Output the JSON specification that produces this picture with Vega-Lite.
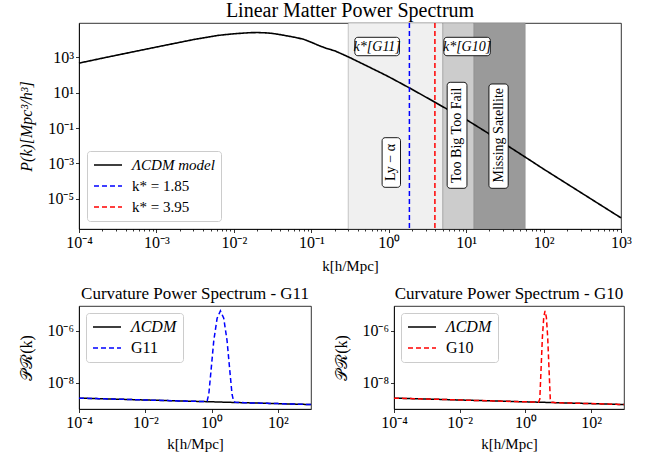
{
  "$schema": "https://vega.github.io/schema/vega-lite/v6.json",
  "padding": {"left": 17, "top": 0, "right": 0, "bottom": 0},
  "background": "white",
  "config": {
    "font": "Liberation Serif",
    "view": {"stroke": "black", "strokeWidth": 0.8},
    "axis": {"labelFont": "Liberation Serif", "titleFont": "Liberation Serif", "labelFontSize": 16, "titleFontSize": 15, "titleFontWeight": "normal", "labelColor": "black", "titleColor": "black", "domainColor": "black", "tickColor": "black", "grid": false, "tickSize": 3.5, "labelPadding": 2, "domainWidth": 0.8, "tickWidth": 0.8, "labelOverlap": false, "labelFlush": false},
    "axisY": {"minExtent": 40, "maxExtent": 40, "titlePadding": 5},
    "axisX": {"titlePadding": 6},
    "title": {"font": "Liberation Serif", "fontWeight": "normal", "color": "black"},
    "legend": {"labelFont": "Liberation Serif", "labelFontSize": 15, "labelColor": "black", "symbolType": "stroke", "symbolSize": 784, "symbolStrokeWidth": 1.5, "fillColor": "white", "strokeColor": "#cccccc", "cornerRadius": 3, "padding": 6, "clipHeight": 16, "rowPadding": 5, "labelOffset": 9, "title": null}
  },
  "datasets": {
    "pk": [
      {"k": 0.0001, "P": 468, "series": "ΛCDM model"},
      {"k": 0.0002, "P": 891, "series": "ΛCDM model"},
      {"k": 0.000316, "P": 1349, "series": "ΛCDM model"},
      {"k": 0.001, "P": 3802, "series": "ΛCDM model"},
      {"k": 0.00316, "P": 10470, "series": "ΛCDM model"},
      {"k": 0.00631, "P": 17380, "series": "ΛCDM model"},
      {"k": 0.01, "P": 21380, "series": "ΛCDM model"},
      {"k": 0.0158, "P": 24550, "series": "ΛCDM model"},
      {"k": 0.02, "P": 25120, "series": "ΛCDM model"},
      {"k": 0.0251, "P": 24270, "series": "ΛCDM model"},
      {"k": 0.0316, "P": 22390, "series": "ΛCDM model"},
      {"k": 0.0398, "P": 19050, "series": "ΛCDM model"},
      {"k": 0.0501, "P": 15850, "series": "ΛCDM model"},
      {"k": 0.0631, "P": 13180, "series": "ΛCDM model"},
      {"k": 0.0794, "P": 10470, "series": "ΛCDM model"},
      {"k": 0.1, "P": 7079, "series": "ΛCDM model"},
      {"k": 0.126, "P": 4571, "series": "ΛCDM model"},
      {"k": 0.158, "P": 3162, "series": "ΛCDM model"},
      {"k": 0.2, "P": 2344, "series": "ΛCDM model"},
      {"k": 0.251, "P": 1514, "series": "ΛCDM model"},
      {"k": 0.316, "P": 955, "series": "ΛCDM model"},
      {"k": 0.501, "P": 355, "series": "ΛCDM model"},
      {"k": 0.794, "P": 132, "series": "ΛCDM model"},
      {"k": 1, "P": 79.4, "series": "ΛCDM model"},
      {"k": 1.85, "P": 18.6, "series": "ΛCDM model"},
      {"k": 3.16, "P": 5.01, "series": "ΛCDM model"},
      {"k": 5.62, "P": 1.2, "series": "ΛCDM model"},
      {"k": 10, "P": 0.302, "series": "ΛCDM model"},
      {"k": 17.8, "P": 0.0631, "series": "ΛCDM model"},
      {"k": 31.6, "P": 0.0126, "series": "ΛCDM model"},
      {"k": 71.3, "P": 0.00126, "series": "ΛCDM model"},
      {"k": 100, "P": 0.000479, "series": "ΛCDM model"},
      {"k": 316, "P": 0.00002, "series": "ΛCDM model"},
      {"k": 1000, "P": 0.00000083, "series": "ΛCDM model"}
    ],
    "kstar": [
      {"k": 1.85, "series": "k* = 1.85"},
      {"k": 3.95, "series": "k* = 3.95"}
    ],
    "bands": [
      {"band": "Ly", "kmin": 0.3, "kmax": 5},
      {"band": "TBTF", "kmin": 5, "kmax": 12.6},
      {"band": "MS", "kmin": 12.6, "kmax": 58}
    ],
    "boxes": [
      {"k1": 0.365, "k2": 1.377, "p1": 1230, "p2": 13520},
      {"k1": 5.16, "k2": 20.5, "p1": 1230, "p2": 13520},
      {"k1": 0.822, "k2": 1.42, "p1": 0.0000444, "p2": 0.0284},
      {"k1": 5.69, "k2": 10.24, "p1": 0.000039, "p2": 38.5},
      {"k1": 19.7, "k2": 34.9, "p1": 0.000039, "p2": 30.9}
    ],
    "hlabels": [
      {"label": "k*[G11]", "k": 0.71, "p": 4070},
      {"label": "k*[G10]", "k": 10.27, "p": 4070}
    ],
    "vlabels": [
      {"label": "Ly − α", "k": 1.08, "p": 0.00112, "style": "it"},
      {"label": "Too Big Too Fail", "k": 7.63, "p": 0.039, "style": "rm"},
      {"label": "Missing Satellite", "k": 26.2, "p": 0.039, "style": "rm"}
    ],
    "pr11": [
      {"k": 0.0001, "P": 2.61e-9, "series": "ΛCDM"},
      {"k": 0.001, "P": 2.42e-9, "series": "ΛCDM"},
      {"k": 0.01, "P": 2.22e-9, "series": "ΛCDM"},
      {"k": 0.1, "P": 2.05e-9, "series": "ΛCDM"},
      {"k": 1, "P": 1.89e-9, "series": "ΛCDM"},
      {"k": 10, "P": 1.74e-9, "series": "ΛCDM"},
      {"k": 100, "P": 1.61e-9, "series": "ΛCDM"},
      {"k": 1000, "P": 1.48e-9, "series": "ΛCDM"},
      {"k": 0.0001, "P": 2.61e-9, "series": "G11"},
      {"k": 0.001, "P": 2.42e-9, "series": "G11"},
      {"k": 0.01, "P": 2.22e-9, "series": "G11"},
      {"k": 0.1, "P": 2.05e-9, "series": "G11"},
      {"k": 0.656, "P": 1.92e-9, "series": "G11"},
      {"k": 0.736, "P": 2.05e-9, "series": "G11"},
      {"k": 0.826, "P": 3.8e-9, "series": "G11"},
      {"k": 0.927, "P": 1.78e-8, "series": "G11"},
      {"k": 1.167, "P": 4.29e-7, "series": "G11"},
      {"k": 1.469, "P": 3.06e-6, "series": "G11"},
      {"k": 1.85, "P": 5.9e-6, "series": "G11"},
      {"k": 2.33, "P": 3.06e-6, "series": "G11"},
      {"k": 2.93, "P": 4.27e-7, "series": "G11"},
      {"k": 3.69, "P": 1.77e-8, "series": "G11"},
      {"k": 4.14, "P": 3.7e-9, "series": "G11"},
      {"k": 4.65, "P": 1.95e-9, "series": "G11"},
      {"k": 5.21, "P": 1.83e-9, "series": "G11"},
      {"k": 10, "P": 1.74e-9, "series": "G11"},
      {"k": 100, "P": 1.61e-9, "series": "G11"},
      {"k": 1000, "P": 1.48e-9, "series": "G11"}
    ],
    "pr10": [
      {"k": 0.0001, "P": 2.61e-9, "series": "ΛCDM"},
      {"k": 0.001, "P": 2.42e-9, "series": "ΛCDM"},
      {"k": 0.01, "P": 2.22e-9, "series": "ΛCDM"},
      {"k": 0.1, "P": 2.05e-9, "series": "ΛCDM"},
      {"k": 1, "P": 1.89e-9, "series": "ΛCDM"},
      {"k": 10, "P": 1.74e-9, "series": "ΛCDM"},
      {"k": 100, "P": 1.61e-9, "series": "ΛCDM"},
      {"k": 1000, "P": 1.48e-9, "series": "ΛCDM"},
      {"k": 0.0001, "P": 2.61e-9, "series": "G10"},
      {"k": 0.001, "P": 2.42e-9, "series": "G10"},
      {"k": 0.01, "P": 2.22e-9, "series": "G10"},
      {"k": 0.1, "P": 2.05e-9, "series": "G10"},
      {"k": 1, "P": 1.89e-9, "series": "G10"},
      {"k": 2.49, "P": 1.82e-9, "series": "G10"},
      {"k": 2.74, "P": 2.4e-9, "series": "G10"},
      {"k": 3.0, "P": 3.7e-8, "series": "G10"},
      {"k": 3.29, "P": 6.0e-7, "series": "G10"},
      {"k": 3.61, "P": 3.33e-6, "series": "G10"},
      {"k": 3.95, "P": 5.9e-6, "series": "G10"},
      {"k": 4.34, "P": 3.33e-6, "series": "G10"},
      {"k": 4.75, "P": 6.0e-7, "series": "G10"},
      {"k": 5.21, "P": 3.7e-8, "series": "G10"},
      {"k": 5.71, "P": 2.4e-9, "series": "G10"},
      {"k": 6.27, "P": 1.8e-9, "series": "G10"},
      {"k": 10, "P": 1.74e-9, "series": "G10"},
      {"k": 100, "P": 1.61e-9, "series": "G10"},
      {"k": 1000, "P": 1.48e-9, "series": "G10"}
    ]
  },
  "vconcat": [
    {
      "width": 542,
      "height": 206,
      "title": {"text": "Linear Matter Power Spectrum", "fontSize": 20, "offset": 1},
      "layer": [
        {
          "data": {"name": "bands"},
          "mark": {"type": "rect", "stroke": "#888888", "strokeOpacity": 0.45, "strokeWidth": 1},
          "encoding": {
            "x": {"field": "kmin", "type": "quantitative", "title": "k[h/Mpc]",
              "scale": {"type": "log", "domain": [0.0001, 1000], "nice": false},
              "axis": {"values": [0.0001,0.0002,0.0003,0.0004,0.0005,0.0006,0.0007,0.0008,0.0009,0.001,0.002,0.003,0.004,0.005,0.006,0.007,0.008,0.009,0.01,0.02,0.03,0.04,0.05,0.06,0.07,0.08,0.09,0.1,0.2,0.3,0.4,0.5,0.6,0.7,0.8,0.9,1,2,3,4,5,6,7,8,9,10,20,30,40,50,60,70,80,90,100,200,300,400,500,600,700,800,900,1000],
                "tickSize": {"condition": {"test": "abs(log(datum.value)/LN10 - round(log(datum.value)/LN10)) > 0.01", "value": 2}, "value": 3.5},
                "titlePadding": 8,
                "labelExpr": "abs(log(datum.value)/LN10 - round(log(datum.value)/LN10)) > 0.01 ? '' : '10' + replace(replace(replace(replace(replace(replace(replace(replace(replace(replace(replace(toString(round(log(datum.value)/LN10)),'-','⁻'),'0','⁰'),'1','¹'),'2','²'),'3','³'),'4','⁴'),'5','⁵'),'6','⁶'),'7','⁷'),'8','⁸'),'9','⁹')"}},
            "x2": {"field": "kmax"},
            "fill": {"field": "band", "type": "nominal", "scale": {"domain": ["Ly", "TBTF", "MS"], "range": ["#f0f0f0", "#cccccc", "#9a9a9a"]}, "legend": null}
          }
        },
        {
          "data": {"name": "pk"},
          "mark": {"type": "line", "strokeWidth": 1.6},
          "encoding": {
            "x": {"field": "k", "type": "quantitative"},
            "y": {"field": "P", "type": "quantitative", "title": "P(k)[Mpc³/h³]",
              "scale": {"type": "log", "domain": [1.95e-7, 87000], "nice": false},
              "axis": {"values": [0.00001, 0.001, 0.1, 10, 1000], "titleFontStyle": "italic", "titleFontSize": 16,
                "labelExpr": "'10' + replace(replace(replace(replace(replace(replace(replace(replace(replace(replace(replace(toString(round(log(datum.value)/LN10)),'-','⁻'),'0','⁰'),'1','¹'),'2','²'),'3','³'),'4','⁴'),'5','⁵'),'6','⁶'),'7','⁷'),'8','⁸'),'9','⁹')"}},
            "color": {"field": "series", "type": "nominal",
              "scale": {"domain": ["ΛCDM model", "k* = 1.85", "k* = 3.95"], "range": ["black", "#0000ff", "#ff0000"]},
              "legend": {"orient": "bottom-left", "offset": 8, "encode": {"labels": {"update": {"fontStyle": {"signal": "indexof(datum.label, 'CDM') >= 0 ? 'italic' : 'normal'"}}}}}},
            "strokeDash": {"field": "series", "type": "nominal",
              "scale": {"domain": ["ΛCDM model", "k* = 1.85", "k* = 3.95"], "range": [[1, 0], [5, 3], [5, 3]]},
              "legend": {"orient": "bottom-left", "offset": 8, "encode": {"labels": {"update": {"fontStyle": {"signal": "indexof(datum.label, 'CDM') >= 0 ? 'italic' : 'normal'"}}}}}}
          }
        },
        {
          "data": {"name": "kstar"},
          "mark": {"type": "rule", "strokeWidth": 1.5},
          "encoding": {
            "x": {"field": "k", "type": "quantitative"},
            "color": {"field": "series", "type": "nominal"},
            "strokeDash": {"field": "series", "type": "nominal"}
          }
        },
        {
          "data": {"name": "boxes"},
          "mark": {"type": "rect", "fill": "white", "stroke": "black", "strokeWidth": 0.9, "cornerRadius": 3},
          "encoding": {
            "x": {"field": "k1", "type": "quantitative"},
            "x2": {"field": "k2"},
            "y": {"field": "p1", "type": "quantitative"},
            "y2": {"field": "p2"}
          }
        },
        {
          "data": {"name": "hlabels"},
          "mark": {"type": "text", "font": "Liberation Serif", "fontSize": 14, "fontStyle": "italic", "color": "black", "align": "center", "baseline": "middle"},
          "encoding": {
            "x": {"field": "k", "type": "quantitative"},
            "y": {"field": "p", "type": "quantitative"},
            "text": {"field": "label"}
          }
        },
        {
          "data": {"name": "vlabels"},
          "mark": {"type": "text", "font": "Liberation Serif", "fontSize": 14, "angle": 270, "color": "black", "align": "center", "baseline": "middle"},
          "encoding": {
            "x": {"field": "k", "type": "quantitative"},
            "y": {"field": "p", "type": "quantitative"},
            "text": {"field": "label"},
            "fontStyle": {"condition": {"test": "datum.style == 'it'", "value": "italic"}, "value": "normal"}
          }
        }
      ],
      "resolve": {"scale": {"fill": "independent"}}
    },
    {
      "hconcat": [
        {
          "width": 232,
          "height": 103,
          "title": {"text": "Curvature Power Spectrum - G11", "fontSize": 17, "offset": 3},
          "data": {"name": "pr11"},
          "encoding": {
            "x": {"field": "k", "type": "quantitative", "title": "k[h/Mpc]",
              "scale": {"type": "log", "domain": [0.0001, 1000], "nice": false},
              "axis": {"values": [0.0001, 0.01, 1, 100],
                "labelExpr": "'10' + replace(replace(replace(replace(replace(replace(replace(replace(replace(replace(replace(toString(round(log(datum.value)/LN10)),'-','⁻'),'0','⁰'),'1','¹'),'2','²'),'3','³'),'4','⁴'),'5','⁵'),'6','⁶'),'7','⁷'),'8','⁸'),'9','⁹')"}},
            "y": {"field": "P", "type": "quantitative", "title": "𝒫ℛ(k)",
              "scale": {"type": "log", "domain": [1e-9, 9.1e-6], "nice": false},
              "axis": {"values": [1e-8, 1e-6], "titleFontSize": 16,
                "labelExpr": "'10' + replace(replace(replace(replace(replace(replace(replace(replace(replace(replace(replace(toString(round(log(datum.value)/LN10)),'-','⁻'),'0','⁰'),'1','¹'),'2','²'),'3','³'),'4','⁴'),'5','⁵'),'6','⁶'),'7','⁷'),'8','⁸'),'9','⁹')"}},
            "color": {"field": "series", "type": "nominal",
              "scale": {"domain": ["ΛCDM", "G11"], "range": ["black", "#0000ff"]},
              "legend": {"orient": "top-left", "offset": 7, "labelFontSize": 16, "encode": {"labels": {"update": {"fontStyle": {"signal": "indexof(datum.label, 'CDM') >= 0 ? 'italic' : 'normal'"}}}}}},
            "strokeDash": {"field": "series", "type": "nominal",
              "scale": {"domain": ["ΛCDM", "G11"], "range": [[1, 0], [5, 3]]},
              "legend": {"orient": "top-left", "offset": 7, "labelFontSize": 16, "encode": {"labels": {"update": {"fontStyle": {"signal": "indexof(datum.label, 'CDM') >= 0 ? 'italic' : 'normal'"}}}}}}
          },
          "layer": [
            {"transform": [{"filter": "datum.series == 'ΛCDM'"}], "mark": {"type": "line", "strokeWidth": 1.5, "clip": true}},
            {"transform": [{"filter": "datum.series == 'G11'"}], "mark": {"type": "line", "strokeWidth": 1.5, "clip": true}}
          ]
        },
        {
          "width": 230,
          "height": 103,
          "title": {"text": "Curvature Power Spectrum - G10", "fontSize": 17, "offset": 3},
          "data": {"name": "pr10"},
          "encoding": {
            "x": {"field": "k", "type": "quantitative", "title": "k[h/Mpc]",
              "scale": {"type": "log", "domain": [0.0001, 1000], "nice": false},
              "axis": {"values": [0.0001, 0.01, 1, 100],
                "labelExpr": "'10' + replace(replace(replace(replace(replace(replace(replace(replace(replace(replace(replace(toString(round(log(datum.value)/LN10)),'-','⁻'),'0','⁰'),'1','¹'),'2','²'),'3','³'),'4','⁴'),'5','⁵'),'6','⁶'),'7','⁷'),'8','⁸'),'9','⁹')"}},
            "y": {"field": "P", "type": "quantitative", "title": "𝒫ℛ(k)",
              "scale": {"type": "log", "domain": [1e-9, 9.1e-6], "nice": false},
              "axis": {"values": [1e-8, 1e-6], "titleFontSize": 16,
                "labelExpr": "'10' + replace(replace(replace(replace(replace(replace(replace(replace(replace(replace(replace(toString(round(log(datum.value)/LN10)),'-','⁻'),'0','⁰'),'1','¹'),'2','²'),'3','³'),'4','⁴'),'5','⁵'),'6','⁶'),'7','⁷'),'8','⁸'),'9','⁹')"}},
            "color": {"field": "series", "type": "nominal",
              "scale": {"domain": ["ΛCDM", "G10"], "range": ["black", "#ff0000"]},
              "legend": {"orient": "top-left", "offset": 7, "labelFontSize": 16, "encode": {"labels": {"update": {"fontStyle": {"signal": "indexof(datum.label, 'CDM') >= 0 ? 'italic' : 'normal'"}}}}}},
            "strokeDash": {"field": "series", "type": "nominal",
              "scale": {"domain": ["ΛCDM", "G10"], "range": [[1, 0], [5, 3]]},
              "legend": {"orient": "top-left", "offset": 7, "labelFontSize": 16, "encode": {"labels": {"update": {"fontStyle": {"signal": "indexof(datum.label, 'CDM') >= 0 ? 'italic' : 'normal'"}}}}}}
          },
          "layer": [
            {"transform": [{"filter": "datum.series == 'ΛCDM'"}], "mark": {"type": "line", "strokeWidth": 1.5, "clip": true}},
            {"transform": [{"filter": "datum.series == 'G10'"}], "mark": {"type": "line", "strokeWidth": 1.5, "clip": true}}
          ]
        }
      ],
      "spacing": 20,
      "resolve": {"scale": {"x": "independent", "y": "independent", "color": "independent", "strokeDash": "independent"}, "legend": {"color": "independent", "strokeDash": "independent"}}
    }
  ],
  "spacing": 10,
  "resolve": {"scale": {"x": "independent", "y": "independent", "color": "independent", "strokeDash": "independent", "fill": "independent"}, "legend": {"color": "independent", "strokeDash": "independent"}}
}
